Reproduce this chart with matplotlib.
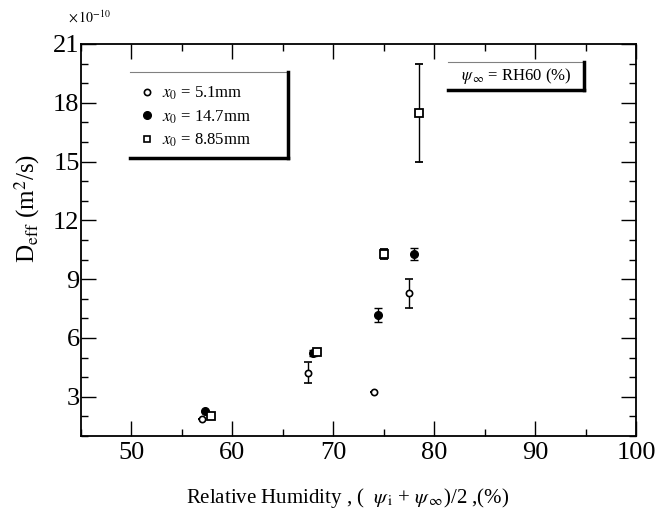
import matplotlib
matplotlib.use("Agg")
import matplotlib.pyplot as plt
from matplotlib.lines import Line2D
from matplotlib.ticker import MultipleLocator

plt.rcParams['font.family'] = ['Liberation Serif', 'DejaVu Serif']
plt.rcParams['mathtext.fontset'] = 'stix'

# Data
x_51 = [57.0, 67.5, 74.0, 77.5]
y_51 = [1.85, 4.23, 3.26, 8.28]
e_51 = [0.0, 0.55, 0.0, 0.75]

x_147 = [57.3, 68.0, 74.4, 78.0]
y_147 = [2.29, 5.25, 7.17, 10.27]
e_147 = [0.0, 0.15, 0.35, 0.3]

x_885 = [57.9, 68.4, 75.0, 78.5]
y_885 = [2.04, 5.30, 10.27, 17.5]
e_885 = [0.0, 0.15, 0.25, 2.5]

labels = [r'$x_0$ = 5.1mm', r'$x_0$ = 14.7mm', r'$x_0$ = 8.85mm']
xticks = [50, 60, 70, 80, 90, 100]
yticks = [3, 6, 9, 12, 15, 18, 21]

fig = plt.figure(figsize=(6.6, 5.14), dpi=100)
ax = fig.add_axes([0.1227, 0.1518, 0.8409, 0.7626])

ekw = dict(ecolor='black', elinewidth=1.0, capsize=3, capthick=1.0, linestyle='none')
ax.errorbar(x_51, y_51, yerr=e_51, marker='o', ms=4.5, mfc='white', mec='black', mew=1.2, **ekw)
ax.errorbar(x_147, y_147, yerr=e_147, marker='o', ms=5.5, mfc='black', mec='black', mew=1.0, **ekw)
ax.errorbar(x_885, y_885, yerr=e_885, marker='s', ms=6, mfc='white', mec='black', mew=1.3, **ekw)

ax.set_xlim(45, 100)
ax.set_ylim(1, 21)
ax.set_xticks(xticks)
ax.set_yticks(yticks)
ax.xaxis.set_minor_locator(MultipleLocator(5))
ax.yaxis.set_minor_locator(MultipleLocator(1))
ax.tick_params(which='both', direction='in', top=True, right=True, labelsize=19)
ax.tick_params(axis='y', pad=1)
ax.tick_params(axis='x', pad=4)
ax.tick_params(which='major', length=11, width=1.0)
ax.tick_params(which='minor', length=5, width=1.0)
for s in ax.spines.values():
    s.set_linewidth(1.3)

ax.set_ylabel(r'D$_{\rm eff}$ (m$^2$/s)', fontsize=18)
ax.yaxis.set_label_coords(-0.07, 0.58)
ax.set_xlabel(r'Relative Humidity , (  $\psi_{\rm \,i}$ + $\psi_{\,\infty}$)/2 ,(%)', fontsize=15)
ax.xaxis.set_label_coords(0.48, -0.128)

fig.text(0.103, 0.965, r'$\times\,10^{-10}$', fontsize=10, ha='left', va='center')

# Legend box (shadowed right/bottom border)
T = ax.transAxes
bx0, bx1, by0, by1 = 0.088, 0.373, 0.709, 0.929
ax.plot([bx0, bx1], [by1, by1], transform=T, color='gray', lw=0.8, clip_on=False)
ax.plot([bx1, bx1], [by0, by1], transform=T, color='black', lw=2.5, clip_on=False)
ax.plot([bx0, bx1], [by0, by0], transform=T, color='black', lw=2.5, clip_on=False)
handles = [
    Line2D([], [], ls='none', marker='o', ms=4.5, mfc='white', mec='black', mew=1.2),
    Line2D([], [], ls='none', marker='o', ms=5.5, mfc='black', mec='black'),
    Line2D([], [], ls='none', marker='s', ms=5, mfc='white', mec='black', mew=1.2),
]
ax.legend(handles, labels, loc='upper left', bbox_to_anchor=(0.08, 0.925),
          frameon=False, fontsize=12, handletextpad=0.3, handlelength=1.2,
          labelspacing=0.35, borderpad=0.2)

# RH60 box
cx0, cx1, cy0, cy1 = 0.661, 0.906, 0.883, 0.955
ax.plot([cx0, cx1], [cy1, cy1], transform=T, color='gray', lw=0.8, clip_on=False)
ax.plot([cx1, cx1], [cy0, cy1], transform=T, color='black', lw=2.5, clip_on=False)
ax.plot([cx0, cx1], [cy0, cy0], transform=T, color='black', lw=2.5, clip_on=False)
ax.text((cx0 + cx1) / 2, (cy0 + cy1) / 2, r'$\psi_{\,\infty}$ = RH60 (%)', transform=T,
        fontsize=12, ha='center', va='center')

fig.savefig('out.png', dpi=100)
